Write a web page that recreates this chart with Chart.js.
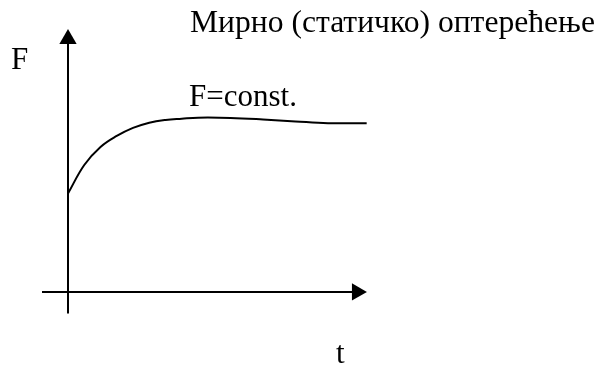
<!DOCTYPE html>
<html>
<head>
<meta charset="utf-8">
<script src="https://cdn.jsdelivr.net/npm/chart.js@4/dist/chart.umd.min.js"></script>
<style>
  html, body { margin: 0; padding: 0; background: #fff; }
  #wrap { position: relative; width: 602px; height: 366px; }
</style>
</head>
<body>
<div id="wrap"><canvas id="chart" width="602" height="366"></canvas></div>
<script>
// load curve F(t) (t and F in arbitrary units)
const curveT = [0, 0.5, 1, 1.5, 2, 2.5, 3, 3.5, 4, 5, 6, 7, 8, 9.19];
const curveF = [3.93, 5.07, 5.79, 6.23, 6.55, 6.76, 6.87, 6.92, 6.96, 6.95, 6.89, 6.81, 6.74, 6.74];

// axis extents in the same units (arrow head sits on the last point)
const tAxisT = [-0.8, 8.89];
const fAxisF = [-0.86, 10.1];

const TITLE = 'Мирно (статичко) оптерећење';
const CURVE_LABEL = 'F=const.';
const Y_LABEL = 'F';
const X_LABEL = 't';

const SERIF = '"Liberation Serif", "DejaVu Serif", serif';

/** Free-standing labels of the sketch. */
const labelsPlugin = {
  id: 'sketchLabels',
  afterDraw: (chart) => {
    const { ctx } = chart;
    ctx.save();
    ctx.fillStyle = '#000';
    ctx.textBaseline = 'alphabetic';
    ctx.font = `31.6px ${SERIF}`;
    ctx.fillText(TITLE, 190, 32);
    ctx.font = `31px ${SERIF}`;
    ctx.fillText(CURVE_LABEL, 189, 106);
    ctx.fillText(Y_LABEL, 11, 69);
    ctx.fillText(X_LABEL, 336, 363);
    ctx.restore();
  },
};

const arrowPoint = (n, rot) => ({
  radius: (c) => (c.dataIndex === n - 1 ? 10 : 0),
  rotation: rot,
});

const tAxis = arrowPoint(tAxisT.length, 90);
const fAxis = arrowPoint(fAxisF.length, 0);

new Chart(document.getElementById('chart'), {
  type: 'scatter',
  data: {
    datasets: [
      {
        label: 'F(t)',
        data: curveT.map((t, i) => ({ x: t, y: curveF[i] })),
        showLine: true,
        borderColor: '#000',
        borderWidth: 2,
        pointRadius: 0,
        tension: 0.4,
        fill: false,
        clip: false,
      },
      {
        label: 't axis',
        data: tAxisT.map((t) => ({ x: t, y: 0 })),
        showLine: true,
        borderColor: '#000',
        borderWidth: 2,
        pointStyle: 'triangle',
        pointRadius: tAxis.radius,
        pointRotation: tAxis.rotation,
        pointBackgroundColor: '#000',
        pointBorderColor: '#000',
        pointBorderWidth: 0,
        clip: false,
      },
      {
        label: 'F axis',
        data: fAxisF.map((f) => ({ x: 0, y: f })),
        showLine: true,
        borderColor: '#000',
        borderWidth: 2,
        pointStyle: 'triangle',
        pointRadius: fAxis.radius,
        pointRotation: fAxis.rotation,
        pointBackgroundColor: '#000',
        pointBorderColor: '#000',
        pointBorderWidth: 0,
        clip: false,
      },
    ],
  },
  plugins: [labelsPlugin],
  options: {
    responsive: false,
    animation: false,
    layout: { padding: { left: 42, right: 235, top: 29, bottom: 49 } },
    plugins: { legend: { display: false }, tooltip: { enabled: false } },
    scales: {
      x: { type: 'linear', min: -0.8, max: 9.2, display: false },
      y: { type: 'linear', min: -1, max: 10.5, display: false },
    },
  },
});
</script>
</body>
</html>
